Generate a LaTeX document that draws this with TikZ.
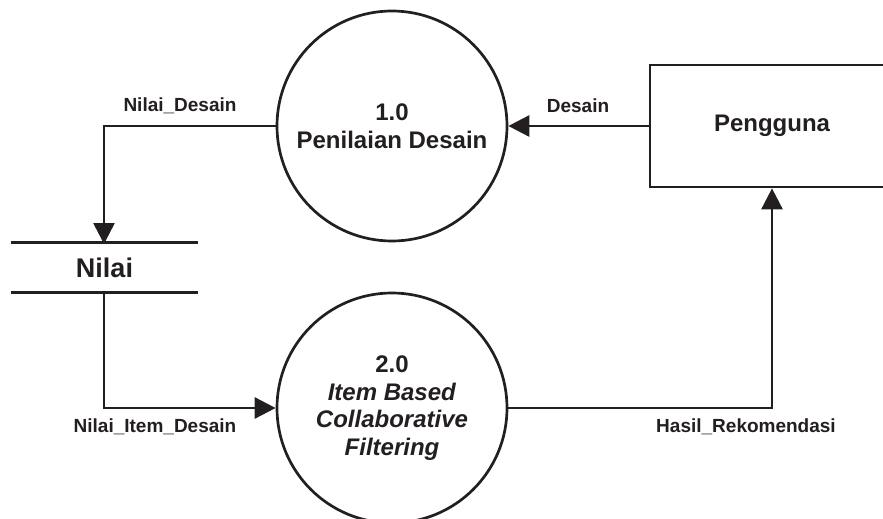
\documentclass[tikz,border=0pt]{standalone}
\usepackage{fontspec}
\setmainfont{Liberation Sans}
\usetikzlibrary{arrows.meta}
\definecolor{ink}{HTML}{231F20}
\begin{document}
\begin{tikzpicture}[x=1pt,y=-1pt,
  line width=2.7pt, draw=ink, text=ink,
  proc/.style={circle, draw, minimum size=230pt, inner sep=0pt, align=center,
    font=\fontsize{24}{28}\selectfont\bfseries},
  entity/.style={rectangle, draw, minimum width=244pt, minimum height=122pt, inner sep=0pt,
    font=\fontsize{24}{28}\selectfont\bfseries},
  storebox/.style={rectangle, minimum width=185pt, minimum height=47pt, inner sep=0pt,
    font=\fontsize{27}{30}\selectfont\bfseries},
  flowlabel/.style={anchor=base, inner sep=0pt, font=\fontsize{19}{22}\selectfont\bfseries},
  flow/.style={-{Triangle[length=21pt,width=21pt]}, line cap=butt, line join=miter}
]
\useasboundingbox (0,0) rectangle (883,519);
\fill[white] (0,0) rectangle (883,519);
\begin{scope}
\clip (0,0) rectangle (883,519);
\node[proc] (c1) at (392,126) {1.0\\Penilaian Desain};
\node[proc, font=\fontsize{24}{27.5}\selectfont\bfseries] (c2) at (392,408) {2.0\\\textit{Item Based}\\\textit{Collaborative}\\\textit{Filtering}};
\node[entity] (user) at (772,126) {Pengguna};
\node[storebox] (store) at (104.5,267.5) {Nilai};
\draw (store.north west) -- (store.north east);
\draw (store.south west) -- (store.south east);
\coordinate (st) at (104,244);
\coordinate (sb) at (104,291);

\draw[flow] (user.west) -- (c1.east);
\draw[flow] (c1.west) -| (st);
\draw[flow] (sb) |- (c2.west);
\draw[flow] (c2.east) -| (user.south);

\node[flowlabel] (l1) at (578,112) {Desain};
\node[flowlabel] (l2) at (180,111) {Nilai\_Desain};
\node[flowlabel] (l3) at (155,432) {Nilai\_Item\_Desain};
\node[flowlabel] (l4) at (746,432) {Hasil\_Rekomendasi};
\end{scope}
\end{tikzpicture}
\end{document}
